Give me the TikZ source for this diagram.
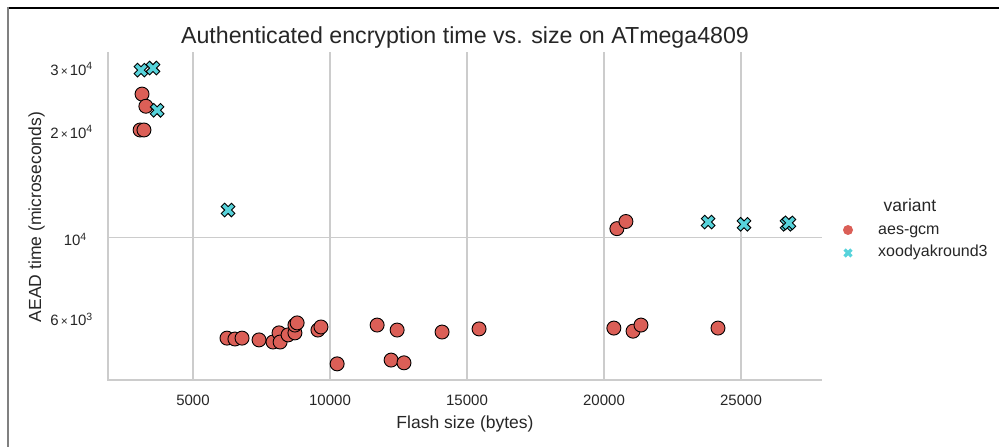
\documentclass[tikz,border=0pt]{standalone}
\usepackage{fontspec}
\setmainfont{Liberation Sans}
\usetikzlibrary{positioning}
\definecolor{aescol}{HTML}{DB5F57}
\definecolor{xoocol}{HTML}{57D3DB}
\definecolor{gridcol}{HTML}{CCCCCC}
\definecolor{txtcol}{HTML}{262626}
\newcommand{\sci}[2]{#1\kern2pt{\fontsize{12}{14}\selectfont ×}\kern2pt10\textsuperscript{#2}}
\begin{document}
\begin{tikzpicture}[x=1pt,y=1pt,
    tick/.style={font=\fontsize{15}{18}\selectfont,text=txtcol,inner sep=0pt},
    axlabel/.style={font=\fontsize{17.5}{21}\selectfont,text=txtcol,inner sep=0pt},
    gridline/.style={draw=gridcol,line width=1.2pt},
    spine/.style={draw=gridcol,line width=1.4pt},
    aes/.style={circle,fill=aescol,draw=black,line width=0.9pt,minimum size=14pt,inner sep=0pt},
    legaes/.style={circle,fill=aescol,minimum size=10pt,inner sep=0pt},
    xmark/.pic={
      \path[pic actions,rotate=45] (2.42pt,-7.25pt) -- (2.42pt,-2.42pt) -- (7.25pt,-2.42pt)
        -- (7.25pt,2.42pt) -- (2.42pt,2.42pt) -- (2.42pt,7.25pt) -- (-2.42pt,7.25pt)
        -- (-2.42pt,2.42pt) -- (-7.25pt,2.42pt) -- (-7.25pt,-2.42pt) -- (-2.42pt,-2.42pt)
        -- (-2.42pt,-7.25pt) -- cycle;
    }]
  \useasboundingbox (0,0) rectangle (999,447);
  % frame
  \draw[black,line width=1.5pt] (7,439) -- (999,439);
  \draw[black!50,line width=2pt] (7.5,439.75) -- (7.5,0);
  % title
  \node[anchor=base,font=\fontsize{23.2}{28}\selectfont,text=txtcol,inner sep=0pt]
    (title) at (465,403) {Authenticated encryption time vs. size on ATmega4809};
  % axes: x in 1000 bytes, y in decades above 10^4
  \begin{scope}[shift={(56pt,209.3pt)},x=27.4pt,y=357.8pt]
    \coordinate (ll) at (1.898,-0.3977);
    \coordinate (ul) at (1.898,0.519);
    \coordinate (lr) at (27.956,-0.3977);
    \foreach \gx in {5,10,15,20,25} {
      \draw[gridline] (\gx,-0.3977) -- (\gx,0.519);
      \node[tick,anchor=base,yshift=-26pt] (xt\gx) at (\gx,-0.3977) {\gx000};
    }
    \coordinate (gl) at (1.898,0);
    \coordinate (gr) at (27.956,0);
    \draw[gridline] (gl) -- (gr);
    \draw[spine] (ul) -- (ll) -- (lr);
    \node[tick,anchor=east,xshift=-21pt,yshift=-2pt] (ymaj) at (gl) {10\textsuperscript{4}};
    \foreach \v/\e/\ly [count=\k] in {3/4/0.47712,2/4/0.30103,6/3/-0.22185}
      \node[tick,anchor=east,xshift=-15pt,yshift=-2pt] (ymin\k) at (1.898,\ly) {\sci{\v}{\e}};
    % aes-gcm
    \foreach \fx/\t [count=\i] in {3.14/25.2,3.28/23.3,3.07/20.0,3.21/20.0,
        6.24/5.24,6.53/5.21,6.79/5.24,7.41/5.18,7.92/5.11,8.14/5.42,8.18/5.11,
        8.47/5.35,8.72/5.42,8.72/5.70,8.80/5.78,9.56/5.52,9.67/5.63,10.26/4.44,
        11.72/5.70,12.45/5.52,12.23/4.55,12.70/4.47,14.09/5.45,15.44/5.56,
        20.47/10.6,20.80/11.1,20.36/5.59,21.06/5.48,21.35/5.70,24.16/5.59}
      \node[aes] (aes\i) at (\fx,{log10(\t)-1}) {};
    % xoodyakround3
    \foreach \fx/\t in {3.10/29.4,3.54/29.8,3.69/22.7,6.28/11.95,
        23.80/11.06,25.11/10.9,26.68/10.9,26.75/11.0}
      \pic[fill=xoocol,draw=black,line width=0.9pt] at (\fx,{log10(\t)-1}) {xmark};
  \end{scope}
  % axis labels
  \node[axlabel,anchor=base] (xlabel) at (465,18.3) {Flash size (bytes)};
  \node[axlabel,anchor=base,rotate=90] (ylabel) at (41,230) {AEAD time (microseconds)};
  % legend
  \node[axlabel,anchor=base] (legtitle) at (910,235) {variant};
  \node[legaes] (legaesmark) at (848,217) {};
  \node[tick,anchor=base west,font=\fontsize{16}{19}\selectfont] (legaeslbl) at (878,212.5) {aes-gcm};
  \coordinate (legxoomark) at (848,194);
  \pic[fill=xoocol,scale=0.66] at (legxoomark) {xmark};
  \node[tick,anchor=base west,font=\fontsize{16}{19}\selectfont] (legxoolbl) at (878,190) {xoodyakround3};
\end{tikzpicture}
\end{document}
